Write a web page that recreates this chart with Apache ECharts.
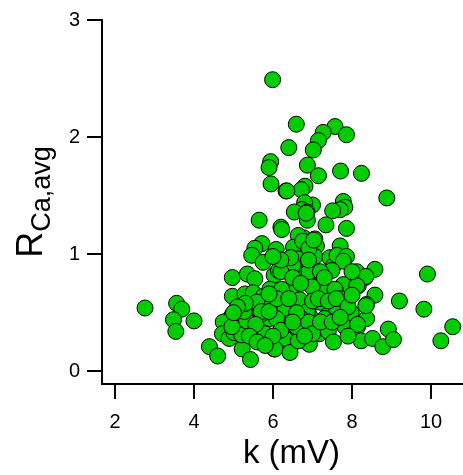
<!DOCTYPE html>
<html>
<head>
<meta charset="utf-8">
<script src="https://cdn.jsdelivr.net/npm/echarts@6/dist/echarts.min.js"></script>
<style>
  html, body { margin: 0; padding: 0; background: #fff; }
  #chart { width: 463px; height: 475px; }
</style>
</head>
<body>
<div id="chart"></div>
<script>
// Measured cells: k (mV) on x, R_Ca,avg on y
const kValues = [
  5.99, 6.59, 7.57, 7.86, 7.27, 7.15, 7.02, 6.40, 5.94, 5.90,
  6.87, 7.15, 7.71, 8.24, 5.95, 6.81, 6.72, 6.33, 8.88, 7.00,
  6.80, 6.73, 6.86, 6.54, 7.78, 7.82, 7.70, 7.51, 5.65, 6.87,
  6.20, 6.22, 7.34, 7.86, 6.77, 6.64, 7.06, 5.72, 5.54, 6.08,
  6.52, 7.10, 7.70, 5.46, 5.75, 6.64, 6.51, 7.06, 7.44, 7.53,
  7.62, 7.86, 7.78, 8.10, 8.33, 8.58, 9.91, 4.97, 5.35, 5.54,
  6.03, 6.14, 6.85, 7.10, 7.78, 8.16, 4.97, 5.29, 5.50, 5.76,
  5.92, 6.43, 6.97, 7.36, 7.57, 8.58, 9.20, 2.76, 3.56, 3.69,
  3.48, 3.54, 4.00, 9.82, 4.91, 4.97, 5.29, 4.74, 4.72, 4.89,
  5.08, 5.50, 5.80, 5.92, 6.13, 6.29, 6.68, 6.89, 6.95, 7.19,
  7.40, 7.61, 7.82, 8.14, 8.37, 8.37, 8.92, 10.55, 4.39, 4.60,
  5.22, 5.43, 6.03, 6.31, 6.41, 6.66, 6.92, 7.17, 7.40, 7.53,
  8.23, 8.52, 8.78, 9.05, 10.25, 5.01, 5.21, 6.30, 6.05, 6.22,
  5.92, 6.20, 5.71, 5.59, 5.33, 6.75, 6.91, 7.49, 6.99, 8.12,
  8.35, 6.68, 7.57, 8.12, 8.35, 7.98, 8.14, 6.87, 6.30, 6.09,
  5.27, 4.96, 6.43, 6.64, 6.75, 6.60, 6.90, 7.00, 7.15, 7.70,
  5.70, 5.56, 5.90, 6.91, 6.45, 6.20, 7.20, 7.30, 6.50, 6.70,
  7.40, 7.30, 7.60, 7.90, 8.00, 6.10, 6.40, 6.60, 6.20, 6.00,
  7.00, 7.20, 7.50, 7.70, 5.30, 5.10, 5.00, 5.40, 5.60, 5.80,
  6.50, 6.80, 7.90, 8.00, 6.90, 6.00, 5.90, 6.84, 7.03, 6.35
];
const rValues = [
  2.49, 2.11, 2.09, 2.02, 2.04, 1.97, 1.89, 1.91, 1.79, 1.74,
  1.76, 1.67, 1.71, 1.69, 1.60, 1.58, 1.55, 1.54, 1.48, 1.42,
  1.44, 1.38, 1.36, 1.36, 1.45, 1.40, 1.38, 1.37, 1.29, 1.29,
  1.23, 1.21, 1.25, 1.22, 1.14, 1.16, 1.13, 1.09, 1.05, 1.04,
  1.06, 1.07, 1.07, 0.99, 0.93, 0.96, 0.90, 0.98, 0.97, 0.90,
  0.99, 0.98, 0.94, 0.84, 0.80, 0.87, 0.83, 0.80, 0.83, 0.79,
  0.82, 0.86, 0.84, 0.79, 0.74, 0.73, 0.64, 0.66, 0.67, 0.64,
  0.70, 0.70, 0.73, 0.70, 0.69, 0.65, 0.60, 0.54, 0.58, 0.53,
  0.44, 0.34, 0.43, 0.53, 0.45, 0.48, 0.50, 0.42, 0.32, 0.28,
  0.33, 0.36, 0.32, 0.45, 0.44, 0.54, 0.60, 0.51, 0.46, 0.59,
  0.48, 0.54, 0.38, 0.38, 0.57, 0.45, 0.36, 0.38, 0.21, 0.13,
  0.19, 0.10, 0.19, 0.28, 0.18, 0.26, 0.23, 0.32, 0.34, 0.25,
  0.26, 0.28, 0.21, 0.27, 0.26, 0.33, 0.31, 0.28, 0.19, 0.70,
  0.56, 0.85, 0.49, 0.59, 0.43, 1.11, 0.85, 0.86, 0.72, 0.85,
  0.81, 0.61, 0.70, 0.73, 0.56, 0.50, 0.40, 0.51, 0.54, 0.45,
  0.51, 0.38, 0.16, 0.26, 0.44, 0.38, 0.42, 0.60, 0.62, 0.62,
  0.51, 0.40, 0.51, 1.05, 0.97, 0.95, 0.85, 0.80, 0.80, 0.75,
  0.60, 0.45, 0.62, 0.55, 0.65, 0.62, 0.62, 0.50, 0.35, 0.30,
  0.32, 0.42, 0.42, 0.46, 0.58, 0.55, 0.50, 0.30, 0.25, 0.22,
  0.42, 0.30, 0.30, 0.85, 0.95, 0.98, 0.66, 1.35, 1.12, 1.54
];
const xTicks = [2, 4, 6, 8, 10];
const yTicks = [0, 1, 2, 3];

const points = kValues.map((k, i) => [k, rValues[i]]);

const FONT = '"Liberation Sans", Arial, sans-serif';
const chart = echarts.init(document.getElementById('chart'), null, { renderer: 'canvas' });

chart.setOption({
  animation: false,
  backgroundColor: '#ffffff',
  grid: { left: 102, top: 20, right: 0, bottom: 89, containLabel: false },
  xAxis: {
    type: 'value',
    min: 1.671,
    max: 10.81,
    name: 'k (mV)',
    nameLocation: 'middle',
    nameGap: 48,
    nameTextStyle: { fontFamily: FONT, fontSize: 33, color: '#000', padding: [0, 0, 0, 18] },
    splitLine: { show: false },
    axisLine: { show: true, onZero: false, lineStyle: { color: '#000', width: 2 } },
    axisTick: { show: true, length: 15, lineStyle: { color: '#000', width: 2 }, customValues: xTicks },
    axisLabel: { fontFamily: FONT, fontSize: 20, color: '#000', margin: 28, customValues: xTicks }
  },
  yAxis: {
    type: 'value',
    min: -0.11,
    max: 3,
    name: '{r|R}{s|Ca,avg}',
    nameLocation: 'middle',
    nameGap: 46,
    nameTextStyle: {
      fontFamily: FONT,
      color: '#000',
      rich: {
        r: { fontFamily: FONT, fontSize: 36, color: '#000', verticalAlign: 'bottom', padding: [0, 0, 6, 0] },
        s: { fontFamily: FONT, fontSize: 27, color: '#000', verticalAlign: 'bottom' }
      }
    },
    splitLine: { show: false },
    axisLine: { show: true, onZero: false, lineStyle: { color: '#000', width: 2 } },
    axisTick: { show: true, length: 15, lineStyle: { color: '#000', width: 2 }, customValues: yTicks },
    axisLabel: { fontFamily: FONT, fontSize: 20, color: '#000', margin: 22, customValues: yTicks }
  },
  series: [{
    type: 'scatter',
    data: points,
    clip: false,
    symbol: 'circle',
    symbolSize: 16,
    itemStyle: { color: '#00cc00', borderColor: '#000', borderWidth: 1, opacity: 1 }
  }]
});
</script>
</body>
</html>
